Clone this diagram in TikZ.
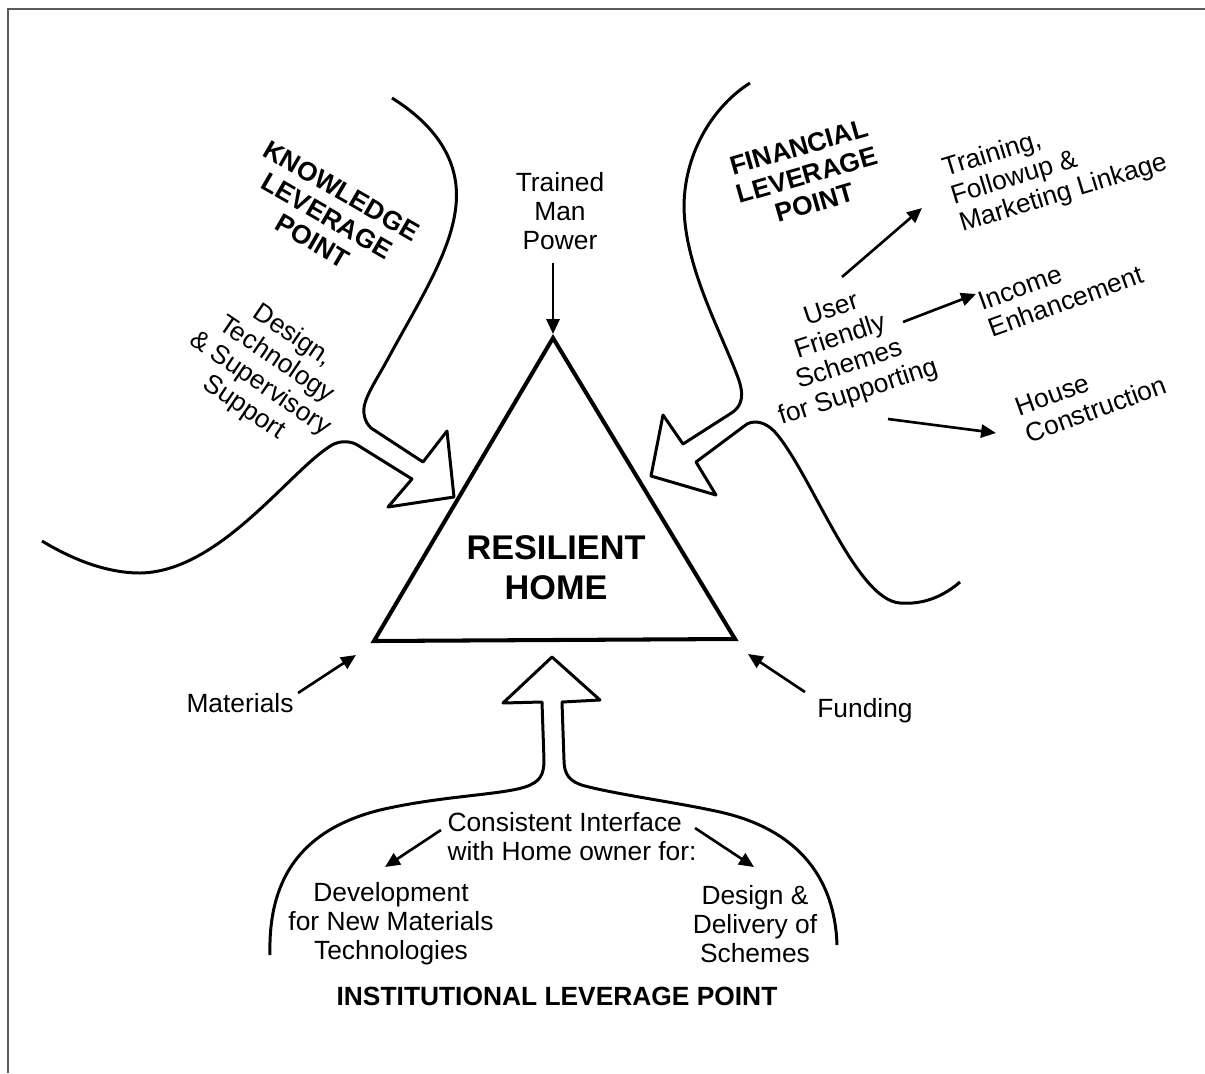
\documentclass[tikz,border=0pt]{standalone}
\usepackage{fontspec}
\setmainfont{Liberation Sans}
\usetikzlibrary{arrows.meta}

\tikzset{
  lbl/.style={inner sep=0pt, align=center, font=\fontsize{15}{16.5}\selectfont},
  lblL/.style={lbl, align=left},
  caps/.style={lbl, font=\fontsize{15}{16.5}\selectfont\bfseries},
  lever/.style={line width=1.7pt, line join=round},
  feed/.style={line width=1.5pt, -{Triangle[length=8.5pt,width=7.5pt]}},
}

\begin{document}
\begin{tikzpicture}[x=0.02cm, y=-0.02cm]
  \useasboundingbox (0,0) rectangle (1205,1073);
  \draw[line width=1.1pt, black!65] (8,1073) -- (8,9) -- (1205,9);

  \coordinate (apex) at (553,338);
  \coordinate (bl)   at (374,641);
  \coordinate (br)   at (735,639);
  \draw[line width=2.3pt, line join=miter] (apex) -- (bl) -- (br) -- cycle;
  \node[caps, font=\fontsize{19.5}{22.7}\selectfont\bfseries] (home) at (556,568) {RESILIENT\\HOME};

  \draw[lever] (392,98) .. controls (440,128) and (460,165) .. (456,205)
    .. controls (452,250) and (420,300) .. (390,355)
    .. controls (375,383) and (362,400) .. (364,414)
    .. controls (365,421) and (368,425) .. (371,428)
    -- (423,462) -- (447,431) -- (454,497) -- (388,507) -- (412,479)
    -- (359,446) .. controls (352,441) and (341,440) .. (332,445)
    .. controls (290,470) and (220,572) .. (140,573)
    .. controls (105,573) and (70,558) .. (42,541);

  \draw[lever] (750,83) .. controls (715,105) and (685,150) .. (684,205)
    .. controls (684,265) and (720,330) .. (737,375)
    .. controls (745,395) and (742,405) .. (733,412)
    -- (683,444) -- (663,415) -- (651,476) -- (716,495) -- (696,462)
    -- (747,424) .. controls (755,420) and (765,422) .. (774,431)
    .. controls (810,470) and (855,600) .. (900,603)
    .. controls (925,605) and (945,595) .. (960,582);

  \draw[lever] (270,955) .. controls (268,880) and (300,830) .. (380,810)
    .. controls (440,796) and (500,795) .. (525,787)
    .. controls (540,782) and (544,775) .. (544,760)
    -- (542,702) -- (503,703) -- (552,657) -- (600,700) -- (562,702)
    -- (564,760) .. controls (564,775) and (570,782) .. (585,786)
    .. controls (620,795) and (680,803) .. (720,812)
    .. controls (800,830) and (835,880) .. (837,945);

  \node[caps, rotate=-30] (know) at (327,216) {KNOWLEDGE\\LEVERAGE\\POINT};
  \node[lbl, rotate=-34] (dts) at (268,372) {Design,\\Technology\\\& Supervisory\\Support};
  \node[lbl] (tmp) at (560,211) {Trained\\Man\\Power};
  \node[caps, rotate=16] (fin) at (807,175) {FINANCIAL\\LEVERAGE\\POINT};
  \node[lblL, rotate=17] (train) at (1055,166) {Training,\\Followup \&\\Marketing Linkage};
  \node[lbl, rotate=18] (user) at (845,352) {User\\Friendly\\Schemes\\for Supporting};
  \node[lblL, rotate=20] (income) at (1061,288) {Income\\Enhancement};
  \node[lblL, rotate=20] (house) at (1091,396) {House\\Construction};
  \node[lbl, anchor=base] (mat) at (240,712) {Materials};
  \node[lbl, anchor=base] (fund) at (865,717) {Funding};
  \node[lblL] (iface) at (572,837) {Consistent Interface\\with Home owner for:};
  \node[lbl] (dev) at (391,924) {Development\\for New Materials\\Technologies};
  \node[lbl] (deliv) at (755,924) {Design \&\\Delivery of\\Schemes};
  \node[caps, anchor=base] (inst) at (557,1005) {INSTITUTIONAL LEVERAGE POINT};

  \coordinate (tmp-a) at (553,263);   \coordinate (tmp-b) at (553,334);
  \coordinate (train-a) at (842,277); \coordinate (train-b) at (922,208);
  \coordinate (inc-a) at (903,322);   \coordinate (inc-b) at (976,294);
  \coordinate (house-a) at (888,419); \coordinate (house-b) at (996,433);
  \coordinate (mat-a) at (298,693);   \coordinate (mat-b) at (356,655);
  \coordinate (fund-a) at (805,692);  \coordinate (fund-b) at (748,654);
  \coordinate (dev-a) at (441,830);   \coordinate (dev-b) at (385,867);
  \coordinate (deliv-a) at (695,828); \coordinate (deliv-b) at (754,867);

  \draw[feed] (tmp-a) -- (tmp-b);
  \draw[feed] (train-a) -- (train-b);
  \draw[feed] (inc-a) -- (inc-b);
  \draw[feed] (house-a) -- (house-b);
  \draw[feed] (mat-a) -- (mat-b);
  \draw[feed] (fund-a) -- (fund-b);
  \draw[feed] (dev-a) -- (dev-b);
  \draw[feed] (deliv-a) -- (deliv-b);
\end{tikzpicture}
\end{document}
